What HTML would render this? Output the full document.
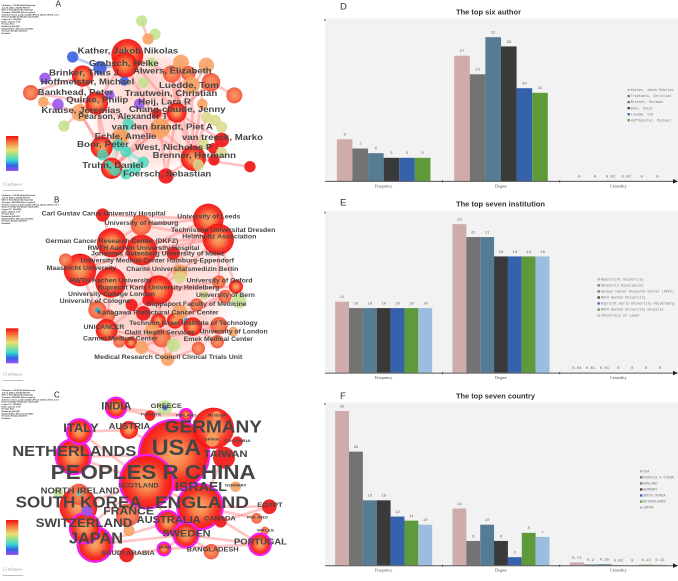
<!DOCTYPE html>
<html lang="en">
<head>
<meta charset="utf-8">
<title>Bibliometric networks and top-ranked bar charts</title>
<style>
html,body{margin:0;padding:0;background:#fff;width:678px;height:581px;overflow:hidden}
svg{display:block;filter:blur(.34px)}
text{font-family:"Liberation Sans",sans-serif}
.lab{font-weight:bold;fill:#454545}
.mono{font-family:"Liberation Mono",monospace}
.ser{font-family:"Liberation Serif",serif}
</style>
</head>
<body>
<svg id="figure" xmlns="http://www.w3.org/2000/svg" width="678" height="581" viewBox="0 0 678 581">
<defs>
<radialGradient id="gr"><stop offset="0" stop-color="#f2a868"/><stop offset=".14" stop-color="#f59a58"/><stop offset=".34" stop-color="#f98248"/><stop offset=".52" stop-color="#f95c34"/><stop offset=".7" stop-color="#f63222"/><stop offset="1" stop-color="#f41212"/></radialGradient>
<radialGradient id="go"><stop offset="0" stop-color="#f79460"/><stop offset=".6" stop-color="#f7734a"/><stop offset="1" stop-color="#f2503a"/></radialGradient>
<radialGradient id="haze"><stop offset="0" stop-color="#ffb0a8" stop-opacity=".6"/><stop offset=".75" stop-color="#ffc0b8" stop-opacity=".4"/><stop offset="1" stop-color="#ffd0c8" stop-opacity="0"/></radialGradient>
<linearGradient id="cbar" x1="0" y1="0" x2="0" y2="1"><stop offset="0" stop-color="#f01010"/><stop offset=".2" stop-color="#f88040"/><stop offset=".4" stop-color="#e8e070"/><stop offset=".55" stop-color="#90e090"/><stop offset=".7" stop-color="#30d8d0"/><stop offset=".85" stop-color="#3060e8"/><stop offset="1" stop-color="#a050f0"/></linearGradient>
</defs>
<g id="networks"></g>
<g id="charts"></g>
</svg>
<script>
/* ---------- bar chart data ---------- */
var chartMetrics = ["Frequency", "Degree", "Centrality"];
var seriesColors = ["#cfacaa", "#737373", "#557c92", "#3a3a3a", "#3563ab", "#5f9a3a", "#9abde0"];

var authorNames = ["Kather, Jakob Nikolas", "Trautwein, Christian", "Brenner, Hermann", "Boor, Peter", "Luedde, Tom", "Hoffmeister, Michael"];
var authorFrequency = [9, 7, 6, 5, 5, 5];
var authorDegree = [27, 23, 31, 29, 20, 19];
var authorCentrality = [0, 0, 0.02, 0.02, 0, 0];

var institutionNames = ["Maastricht University", "Helmholtz Association", "German Cancer Research Center (DKFZ)", "RWTH Aachen University", "Ruprecht Karls University Heidelberg", "RWTH Aachen University Hospital", "University of Leeds"];
var institutionFrequency = [11, 10, 10, 10, 10, 10, 10];
var institutionDegree = [23, 21, 21, 18, 18, 18, 18];
var institutionCentrality = [0.04, 0.01, 0.01, 0, 0, 0, 0];

var countryNames = ["USA", "PEOPLES R CHINA", "ENGLAND", "GERMANY", "SOUTH KOREA", "NETHERLANDS", "JAPAN"];
var countryFrequency = [38, 28, 16, 16, 12, 11, 10];
var countryDegree = [14, 6, 10, 6, 2, 8, 7];
var countryCentrality = [0.72, 0.2, 0.25, 0.02, 0, 0.13, 0.13];

/* ---------- network layouts: x, y, radius, kind (in 3x crop units) ---------- */
var authorLayout = [[382,165,48,"R"],[375,195,38,"R"],[248,228,32,"R"],[218,171,17,"B"],[300,203,20,"B"],[135,235,17,"P"],[92,278,23,"E"],[130,306,16,"O"],[174,313,17,"P"],[192,378,17,"G"],[425,63,17,"G"],[465,103,17,"G"],[444,117,17,"O"],[455,187,15,"G"],[515,222,26,"E"],[543,188,24,"O"],[619,196,23,"O"],[565,220,22,"E"],[633,247,28,"E"],[575,255,25,"O"],[703,286,24,"E"],[607,312,16,"O"],[373,243,14,"B"],[430,248,16,"G"],[418,312,16,"P"],[240,338,26,"O"],[290,310,34,"R"],[330,285,14,"P"],[530,338,30,"R"],[470,340,15,"S"],[620,352,17,"Y"],[646,361,17,"Y"],[665,381,17,"Y"],[480,385,30,"O"],[385,372,18,"T"],[360,410,25,"O"],[370,410,18,"O"],[305,442,33,"R"],[355,435,18,"T"],[378,455,17,"T"],[308,465,17,"T"],[665,420,22,"S"],[640,445,16,"S"],[580,475,38,"R"],[642,480,17,"S"],[665,458,17,"Y"],[595,495,17,"Y"],[750,500,17,"S"],[335,505,32,"R"],[345,512,16,"T"],[325,495,14,"T"],[430,487,17,"T"],[405,505,18,"T"],[378,522,17,"T"],[498,528,23,"S"],[610,432,17,"Y"]];
var authorLinks = [[0,14],[0,26],[0,28],[1,33],[2,26],[2,25],[3,4],[4,1],[6,26],[6,2],[14,28],[15,28],[16,28],[18,28],[17,33],[19,43],[20,18],[28,43],[33,43],[33,48],[26,48],[26,37],[25,48],[25,37],[28,54],[33,54],[43,54],[43,47],[41,28],[28,48],[14,43],[26,43],[19,48],[34,48],[34,40],[38,50],[12,10],[11,12],[9,25],[7,25],[18,33],[16,43],[30,43],[34,38],[38,40],[38,51],[39,52],[34,39],[40,53],[39,51]];
var authorLabels = [["Kather, Jakob Nikolas",233,535,152,24],["Grabsch, Heike",267,476,190,24],["Alwers, Elizabeth",399,635,212,24],["Brinker, Titus J",147,357,218,24],["Hoffmeister, Michael",122,403,245,24],["Luedde, Tom",477,657,255,24],["Bankhead, Peter",113,340,276,24],["Trautwein, Christian",374,652,279,24],["Quirke, Philip",199,385,299,24],["Heij, Lara R",415,573,305,24],["Krause, Jeremias",124,362,330,24],["Chang-claude, Jenny",387,677,328,24],["Pearson, Alexander T",235,503,348,24],["van den brandt, Piet A",335,639,380,24],["Echle, Amelie",284,469,408,24],["van treeck, Marko",546,789,412,24],["Boor, Peter",231,387,432,24],["West, Nicholas P",405,637,441,24],["Brenner, Hermann",458,708,465,24],["Truhn, Daniel",247,430,496,24],["Foersch, Sebastian",369,634,521,24]];
var authorHaze = [[450,385,190,140],[440,235,170,85]];

var institutionLayout = [[625,87,46,"R"],[655,148,47,"R"],[335,158,44,"R"],[425,180,46,"R"],[240,240,49,"R"],[332,277,46,"R"],[475,300,44,"R"],[308,75,20,"S"],[423,105,31,"E"],[197,210,20,"E"],[520,190,20,"S"],[540,245,22,"O"],[540,262,18,"Y"],[657,276,20,"E"],[708,290,21,"R"],[675,320,20,"E"],[612,315,14,"Y"],[718,333,22,"G"],[590,345,20,"E"],[292,360,27,"E"],[292,360,7,"C"],[325,378,20,"E"],[395,345,18,"S"],[445,330,18,"S"],[430,370,22,"S"],[475,392,22,"R"],[525,392,24,"R"],[540,365,22,"O"],[558,390,7,"C"],[458,420,22,"O"],[485,445,27,"E"],[520,465,20,"G"],[578,410,28,"R"],[657,407,26,"E"],[700,425,15,"O"],[652,455,20,"E"],[595,475,20,"E"],[320,420,33,"R"],[358,455,18,"E"],[393,458,18,"R"],[425,472,20,"O"],[503,508,20,"O"]];
var institutionLinks = [[7,0],[7,2],[8,0],[8,1],[0,1],[0,3],[1,3],[2,3],[2,4],[3,4],[3,6],[4,5],[5,6],[6,1],[6,0],[6,13],[6,14],[6,32],[6,30],[6,37],[5,37],[4,19],[19,37],[37,30],[30,41],[30,33],[25,33],[26,15],[26,14],[1,14],[1,13],[2,1],[3,10],[31,41],[36,41],[37,41],[40,30],[32,35],[8,2],[9,4]];
var institutionLabels = [["Carl Gustav Carus University Hospital",125,497,70,18],["University of Leeds",532,721,79,18],["University of Hamburg",314,535,98,18],["Technische Universitat Dresden",513,826,119,18],["Helmholtz Association",547,769,139,18],["German Cancer Research Center (DKFZ)",136,535,152,18],["RWTH Aachen University Hospital",263,598,173,18],["Johannes Gutenberg University of Mainz",273,673,190,18],["University Medical Center Hamburg-Eppendorf",242,702,211,18],["Maastricht University",140,349,234,18],["Charite Universitatsmedizin Berlin",379,715,237,18],["RWTH Aachen University",209,456,271,18],["University of Oxford",560,758,271,18],["Ruprecht Karls University Heidelberg",293,658,292,18],["University College London",204,465,311,18],["University of Bern",588,765,314,18],["University of Cologne",179,391,332,18],["Rappaport Faculty of Medicine",440,740,341,18],["Kanagawa Prefectural Cancer Center",292,656,367,18],["Technion Israel Institute of Technology",388,773,399,18],["UNICANCER",251,373,410,18],["University of London",599,803,424,18],["Clalit Health Services",374,584,427,18],["Carmel Medical Center",249,473,445,18],["Emek Medical Center",551,759,447,18],["Medical Research Council Clinical Trials Unit",283,727,501,18]];
var institutionHaze = [[480,280,240,230],[490,420,200,90]];

var countryLayout = [[522,210,105,"M"],[440,290,80,"M"],[600,365,68,"M"],[640,130,62,"R"],[220,215,52,"M"],[235,365,57,"R"],[285,478,52,"M"],[255,430,45,"M"],[238,140,37,"M"],[348,68,30,"M"],[387,135,27,"R"],[495,68,22,"G"],[450,92,16,"S"],[558,90,18,"M"],[650,92,14,"O"],[712,170,16,"S"],[672,218,33,"S"],[637,165,20,"O"],[707,305,16,"O"],[237,328,32,"E"],[175,323,15,"G"],[237,325,8,"T"],[262,378,17,"P"],[383,390,35,"E"],[503,413,35,"M"],[387,437,17,"O"],[558,450,37,"M"],[662,410,18,"S"],[808,365,22,"S"],[770,400,16,"E"],[795,437,12,"E"],[780,478,32,"M"],[634,500,23,"E"],[492,492,19,"M"],[380,510,22,"S"],[495,68,8,"B"]];
var countryLinks = [[9,12],[12,13],[9,13],[8,10],[10,0],[4,0],[4,1],[8,1],[3,0],[0,2],[1,2],[1,5],[5,6],[6,26],[6,34],[34,33],[33,31],[33,26],[26,31],[2,28],[2,29],[2,31],[24,2],[24,6],[24,26],[1,24],[0,24],[32,26],[27,28],[16,2],[7,1]];
var countryLabels = [["INDIA",304,394,62,32],["GREECE",452,546,62,20],["TURKIYE",421,484,88,12],["FINLAND",528,590,90,12],["RUSSIA",624,680,90,12],["GERMANY",494,786,124,52],["ITALY",190,296,129,36],["AUSTRIA",326,451,124,24],["SPAIN",614,658,163,12],["COLOMBIA",672,752,167,12],["USA",455,604,187,66],["NETHERLANDS",37,409,197,44],["TAIWAN",611,743,206,28],["PEOPLES R CHINA",152,767,261,60],["ISRAEL",525,681,305,38],["SCOTLAND",354,476,301,20],["NORWAY",675,740,301,12],["NORTH IRELAND",122,358,317,25],["SOUTH KOREA",47,425,350,48],["ENGLAND",465,747,352,50],["EGYPT",772,848,359,20],["FRANCE",310,462,378,32],["AUSTRALIA",410,602,403,30],["CANADA",612,707,400,19],["POLAND",741,804,396,12],["SWITZERLAND",107,397,414,36],["WALES",771,822,436,12],["SWEDEN",487,632,445,28],["JAPAN",207,369,459,48],["PORTUGAL",702,861,469,26],["BANGLADESH",560,716,493,20],["IRAN",476,514,487,11],["SAUDI ARABIA",304,464,503,20]];
var countryHaze = [];

var headerLines = ["CiteSpace, v. 6.2.R2 (64-bit) Advanced","July 16, 2024 at 9:41:45 PM CST","WoS: C:\\Users\\Admin\\Desktop\\data","Timespan: 2014-2024 (Slice Length=1)","Selection Criteria: g-index (k=25), LRF=2.5, L/N=10, LBY=5, e=1.0","Network: N=345, E=1762 (Density=0.0297)","Largest CC: 330 (95%)","Nodes Labeled: 1.0%","Pruning: None","Modularity Q=0.5021","Weighted Mean Silhouette S=0.8012","Harmonic Mean(Q, S)=0.6173","Excluded:"];

var NS = "http://www.w3.org/2000/svg";
function mk(tag, attrs, parent, txt) {
  var e = document.createElementNS(NS, tag);
  for (var k in attrs) e.setAttribute(k, attrs[k]);
  if (txt !== undefined) e.textContent = txt;
  parent.appendChild(e);
  return e;
}

var kindFill = {R:"url(#gr)",M:"url(#gr)",E:"url(#go)",O:"#f7a060",G:"#bfe28c",T:"#45d8bc",B:"#3b62e6",P:"#9a55f0",Y:"#d8d88c",S:"#f01e1e",C:"#20b8e0"};
var kindOpacity = {R:.95,M:.97,E:.94,O:.88,G:.85,T:.8,B:.9,P:.9,Y:.85,S:.95,C:1};

function drawNetwork(panelName, letter, offsetY, layout, links, labels, haze) {
  var root = document.getElementById("networks");
  var g = mk("g", {transform:"translate(0," + offsetY + ") scale(0.3333)"}, root);
  
  

  headerLines.forEach(function (line, i) {
    var t = mk("text", {x:5, y:18 + i * 7, "font-size":5.6, "font-weight":"bold", fill:"#222"}, g, line);
    
    
  });

  var l = mk("text", {x:letter === "A" ? 167 : 162, y:letter === "A" ? 20 : 38, "font-size":24, fill:"#222"}, g, letter);
  
  

  haze.forEach(function (h) {
    var z = mk("ellipse", {cx:h[0], cy:h[1], rx:h[2], ry:h[3], fill:"url(#haze)"}, g);
    
    
  });

  links.forEach(function (p) {
    var a = layout[p[0]], b = layout[p[1]];
    var teal = a[3] === "T" && b[3] === "T";
    var blue = a[3] === "B" && (b[3] === "B" || b[3] === "R");
    var e = mk("line", {x1:a[0], y1:a[1], x2:b[0], y2:b[1], stroke:teal ? "#7fe8d4" : blue ? "#7f9af0" : "#ff8a8a", "stroke-opacity":.5, "stroke-width":8}, g);
    
    
  });

  layout.forEach(function (n) {
    var c = mk("circle", {cx:n[0], cy:n[1], r:n[2], fill:kindFill[n[3]], "fill-opacity":kindOpacity[n[3]]}, g);
    if (n[3] === "M") {
      c.setAttribute("stroke", "#f020f0");
      c.setAttribute("stroke-width", 7);
    }
    
    
  });

  labels.forEach(function (a) {
    var t = mk("text", {x:a[1], y:a[3] + a[4] * 0.35, "font-size":a[4], textLength:a[2] - a[1], lengthAdjust:"spacingAndGlyphs", "class":"lab"}, g, a[0]);
    
    
  });

  var bar = mk("rect", {x:18, y:letter === "A" ? 408 : letter === "B" ? 415 : 405, width:37, height:105, fill:"url(#cbar)"}, g);
  
  

  var logo = mk("text", {x:10, y:556, "font-size":11, "class":"ser", fill:"#777", textLength:56}, g, "CiteSpace");
  
  
  var rule = mk("line", {x1:8, x2:70, y1:571, y2:571, stroke:"#999", "stroke-width":2}, g);
  
  
}

function drawChart(cfg) {
  var root = document.getElementById("charts");
  var g = mk("g", {}, root);
  
  

  var left = 325, right = 678, band = 117.33;
  var y = function (v) { return cfg.base - v * cfg.unit; };
  var x = function (m, s) {
    var groupW = cfg.barW * cfg.names.length;
    return left + band * m + (band - groupW) / 2 + s * cfg.barW;
  };

  var bg = mk("rect", {x:left, y:cfg.top, width:right - left, height:cfg.base - cfg.top, fill:"#f2f2f2"}, g);
  
  

  var letter = mk("text", {x:340, y:cfg.letterY, "font-size":9.5, fill:"#333"}, g, cfg.letter);
  
  

  var title = mk("text", {x:456, y:cfg.titleY, "font-size":7.4, "font-weight":"bold", fill:"#333", textLength:cfg.titleW, lengthAdjust:"spacingAndGlyphs"}, g, cfg.title);
  
  

  cfg.series.forEach(function (vals, m) {
    vals.forEach(function (v, s) {
      var r = mk("rect", {x:x(m, s), y:y(v), width:cfg.barW, height:cfg.base - y(v), fill:seriesColors[s]}, g);
      
      
      var t = mk("text", {x:x(m, s) + cfg.barW / 2, y:y(v) - 3.6, "font-size":3.9, "text-anchor":"middle", fill:"#666", "class":"mono"}, g, String(v));
      
      
    });
  });

  var axis = mk("line", {x1:left, x2:676, y1:cfg.base + .4, y2:cfg.base + .4, stroke:"#555", "stroke-width":1}, g);
  
  
  var arrow = mk("path", {d:"M673 " + (cfg.base - 2) + "L678 " + (cfg.base + .4) + "L673 " + (cfg.base + 2.6) + "Z", fill:"#222"}, g);
  
  
  var yArrow = mk("path", {d:"M325 " + (cfg.top + .5) + "l1 2h-2Z", fill:"#555"}, g);
  
  

  chartMetrics.forEach(function (name, m) {
    var t = mk("text", {x:left + band * (m + .5), y:cfg.base + 6.4, "font-size":4.1, "text-anchor":"middle", fill:"#444", "class":"ser"}, g, name);
    
    
    if (m > 0) {
      var k = mk("rect", {x:left + band * m - .4, y:cfg.base - .6, width:.9, height:2, fill:"#333"}, g);
      
      
    }
  });

  cfg.names.forEach(function (n, i) {
    var ly = cfg.legendY + i * cfg.legendStep;
    var s = mk("rect", {x:cfg.legendX, y:ly - 1.1, width:2.4, height:2.2, fill:seriesColors[i]}, g);
    
    
    var t = mk("text", {x:cfg.legendX + 3.2, y:ly + 1.1, "font-size":3.4, fill:"#777", "class":"mono"}, g, n);
    
    
  });
}

drawNetwork("author-network", "A", 0, authorLayout, authorLinks, authorLabels, authorHaze);
drawNetwork("institution-network", "B", 190, institutionLayout, institutionLinks, institutionLabels, institutionHaze);
drawNetwork("country-network", "C", 385, countryLayout, countryLinks, countryLabels, countryHaze);

drawChart({name:"author-chart", letter:"D", title:"The top six author", titleY:14.3, titleW:65, letterY:9.5,
  top:18.3, base:181, unit:4.64, barW:15.6, names:authorNames,
  series:[authorFrequency, authorDegree, authorCentrality],
  legendX:627.5, legendY:90, legendStep:6.05});
drawChart({name:"institution-chart", letter:"E", title:"The top seven institution", titleY:206.5, titleW:89, letterY:205.5,
  top:210.7, base:372.7, unit:6.46, barW:13.86, names:institutionNames,
  series:[institutionFrequency, institutionDegree, institutionCentrality],
  legendX:597.5, legendY:279.3, legendStep:6.05});
drawChart({name:"country-chart", letter:"F", title:"The top seven country", titleY:398.5, titleW:79, letterY:399,
  top:402.3, base:565.3, unit:4.06, barW:13.86, names:countryNames,
  series:[countryFrequency, countryDegree, countryCentrality],
  legendX:640, legendY:471.3, legendStep:6.05});
</script>
</body>
</html>
